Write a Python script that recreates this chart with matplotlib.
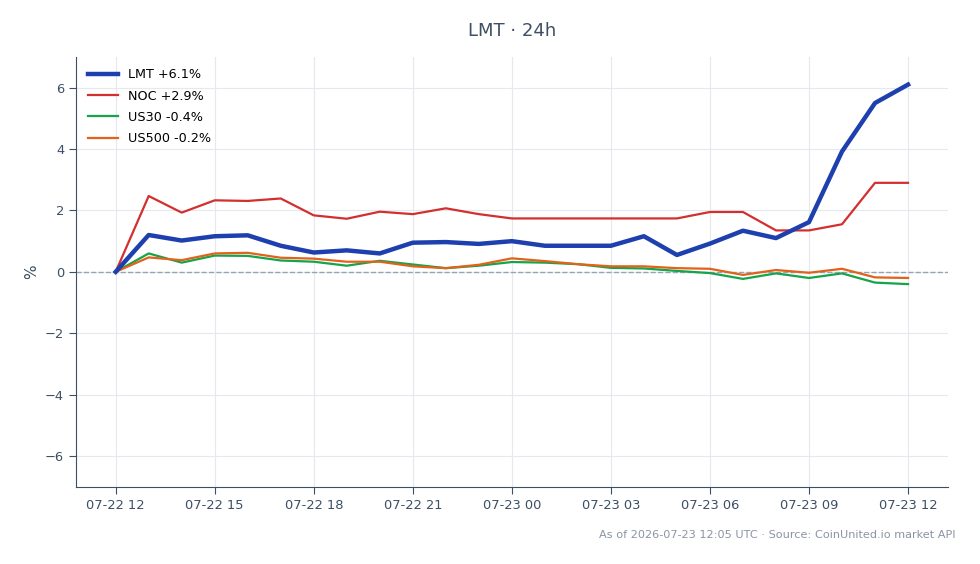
import pandas as pd
from matplotlib import pyplot as plt
from matplotlib.dates import HourLocator, DateFormatter

# hourly % change vs. start, 07-22 12:00 -> 07-23 12:00
hours = pd.date_range('2026-07-22 12:00', '2026-07-23 12:00', freq='h')

lmt = [0.0, 1.2, 1.02, 1.16, 1.19, 0.85, 0.63, 0.7, 0.6, 0.95, 0.97, 0.91, 1.0,
       0.85, 0.85, 0.85, 1.16, 0.55, 0.92, 1.34, 1.1, 1.62, 3.92, 5.5, 6.1]
noc = [0.0, 2.47, 1.93, 2.33, 2.31, 2.39, 1.84, 1.73, 1.96, 1.88, 2.07, 1.88, 1.74,
       1.74, 1.74, 1.74, 1.74, 1.74, 1.95, 1.95, 1.35, 1.35, 1.55, 2.9, 2.9]
us30 = [0.0, 0.6, 0.3, 0.53, 0.52, 0.37, 0.33, 0.2, 0.36, 0.24, 0.12, 0.2, 0.32,
        0.3, 0.25, 0.13, 0.11, 0.03, -0.04, -0.23, -0.05, -0.2, -0.05, -0.35, -0.4]
us500 = [0.0, 0.47, 0.38, 0.6, 0.62, 0.46, 0.43, 0.33, 0.33, 0.18, 0.12, 0.23, 0.44,
         0.35, 0.25, 0.18, 0.18, 0.12, 0.1, -0.1, 0.06, -0.03, 0.1, -0.18, -0.2]

labels = ['LMT +6.1%', 'NOC +2.9%', 'US30 -0.4%', 'US500 -0.2%']

text_col = '#3d4f63'

fig, ax = plt.subplots(figsize=(9.8, 5.64), dpi=100)
plt.subplots_adjust(left=0.0776, right=0.967, top=0.899, bottom=0.137)

ax.axhline(0, color='#94a3b8', lw=1, ls='--', zorder=1)
ax.plot(hours, lmt, color='#1e40af', lw=3.2, label=labels[0], zorder=5)
ax.plot(hours, noc, color='#d32f2f', lw=1.6, label=labels[1], zorder=4)
ax.plot(hours, us30, color='#16a34a', lw=1.6, label=labels[2], zorder=3)
ax.plot(hours, us500, color='#e0621b', lw=1.6, label=labels[3], zorder=3)

ax.set_ylim(-7, 7)
ax.set_yticks([-6, -4, -2, 0, 2, 4, 6])
ax.set_yticklabels(['\u22126', '\u22124', '\u22122', '0', '2', '4', '6'])
ax.xaxis.set_major_locator(HourLocator(byhour=range(0, 24, 3)))
ax.xaxis.set_major_formatter(DateFormatter('%m-%d %H'))
ax.margins(x=0.05)

ax.grid(True, color='#e5e8ee', lw=0.8)
ax.set_axisbelow(True)
for s in ['top', 'right']:
    ax.spines[s].set_visible(False)
for s in ['left', 'bottom']:
    ax.spines[s].set_color(text_col)
ax.tick_params(colors=text_col, labelsize=9.4, length=5)
ax.set_ylabel('%', color=text_col, fontsize=11)

ax.set_title('LMT \u00b7 24h', color=text_col, fontsize=13, pad=15)
ax.legend(loc='upper left', frameon=False, fontsize=9.2, handlelength=2.35,
          labelspacing=0.64)

fig.text(0.975, 0.052, 'As of 2026-07-23 12:05 UTC \u00b7 Source: CoinUnited.io market API',
         ha='right', va='center', fontsize=8.1, color='#8a94a3')

plt.savefig('out.png', dpi=100)
